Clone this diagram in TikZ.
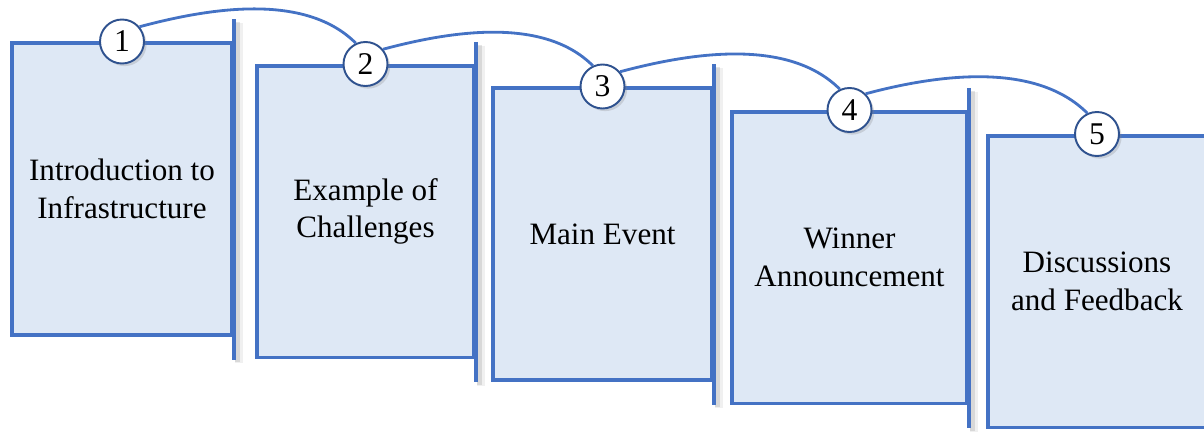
\documentclass[tikz,border=0pt]{standalone}
\usepackage{fontspec}
\setmainfont{Liberation Serif}
\usetikzlibrary{shadows,positioning}

\definecolor{stepblue}{HTML}{4472C4}
\definecolor{stepfill}{HTML}{DEE8F5}
\definecolor{stepdark}{HTML}{2F528F}

\begin{document}
\begin{tikzpicture}[
    stage/.style={draw=stepblue, fill=stepfill, line width=2pt, minimum width=#1,
        minimum height=5.83cm, inner sep=0pt, align=center,
        font=\fontsize{17.7}{21.5}\selectfont},
    bar/.style={draw=stepblue, line width=2.4pt,
        preaction={draw=black, opacity=0.06, line width=5pt,
            transform canvas={shift={(3pt,-2pt)}}},
        preaction={draw=black, opacity=0.1, line width=3pt,
            transform canvas={shift={(2pt,-1.5pt)}}}},
    num/.style={circle, draw=stepdark, fill=white, line width=1.1pt,
        minimum size=0.88cm, inner sep=0pt, font=\fontsize{18}{18}\selectfont,
        drop shadow={opacity=0.25, shadow xshift=1.5pt, shadow yshift=-1.5pt}},
    link/.style={draw=stepblue, line width=1.6pt, looseness=0.85}
]
    \useasboundingbox (0,0) rectangle (24.08,-8.94);
    \clip (0,0) rectangle (24.08,-8.94);

    % Stage boxes
    \node[stage=4.4cm] (b1) at (2.44,-3.78) {Introduction to\\Infrastructure};
    \node[stage=4.34cm] (b2) at (7.31,-4.23) {Example of\\Challenges};
    \node[stage=4.38cm] (b3) at (12.05,-4.68) {Main Event};
    \node[stage=4.7cm] (b4) at (16.99,-5.15) {Winner\\Announcement};
    \node[stage=4.36cm] (b5) at (21.94,-5.63) {Discussions\\and Feedback};

    % Bars on the right side
    \draw[bar] ([yshift=0.44cm]b1.north east) -- ([yshift=-0.46cm]b1.south east);
    \draw[bar] ([yshift=0.44cm]b2.north east) -- ([yshift=-0.46cm]b2.south east);
    \draw[bar] ([yshift=0.44cm]b3.north east) -- ([yshift=-0.46cm]b3.south east);
    \draw[bar] ([yshift=0.44cm]b4.north east) -- ([yshift=-0.46cm]b4.south east);

    % Step numbers
    \node[num] (n1) at (b1.north) {1};
    \node[num] (n2) at (b2.north) {2};
    \node[num] (n3) at (b3.north) {3};
    \node[num] (n4) at (b4.north) {4};
    \node[num] (n5) at (b5.north) {5};

    % Connect numbers
    \draw[link] (n1.40) to[out=15, in=135] (n2.115);
    \draw[link] (n2.40) to[out=15, in=135] (n3.115);
    \draw[link] (n3.40) to[out=15, in=135] (n4.115);
    \draw[link] (n4.45) to[out=15, in=135] (n5.115);
\end{tikzpicture}
\end{document}
